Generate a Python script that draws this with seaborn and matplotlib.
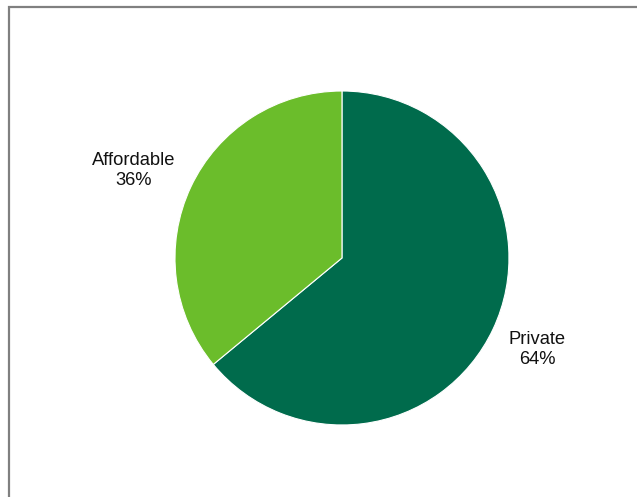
import matplotlib
matplotlib.use("Agg")
import matplotlib.pyplot as plt
from matplotlib.patches import Rectangle
import seaborn as sns

categories = ["Private", "Affordable"]
shares = [64, 36]
label_text = ["Private\n64%", "Affordable\n36%"]

sns.set_theme(style="white")
plt.rcParams["font.family"] = ["Liberation Sans", "DejaVu Sans"]

colors = ["#006B4C", "#6BBD2B"]

fig = plt.figure(figsize=(6.37, 4.97), dpi=100)
fig.patch.set_facecolor("white")

# outer frame, open on the right and bottom edges
fig.patches.append(Rectangle((0.0149, -0.05), 1.2, 0.985 + 0.05,
                             transform=fig.transFigure, fill=False,
                             edgecolor="#808080", linewidth=1.6, zorder=0))

ax = fig.add_axes([0.2747, 0.1449, 0.5243, 0.672])
wedges, _ = ax.pie(shares, colors=colors, startangle=90, counterclock=False,
                   wedgeprops=dict(edgecolor="white", linewidth=0.8))
ax.set_xlim(-1, 1)
ax.set_ylim(-1, 1)
ax.set_aspect("equal")
ax.axis("off")

label_pos = [(1.17, -0.55), (-1.245, 0.525)]
for (x, y), txt in zip(label_pos, label_text):
    ax.text(x, y, txt, ha="center", va="center", fontsize=13.2,
            color="#111111", linespacing=1.22)

fig.savefig("out.png", dpi=100)
